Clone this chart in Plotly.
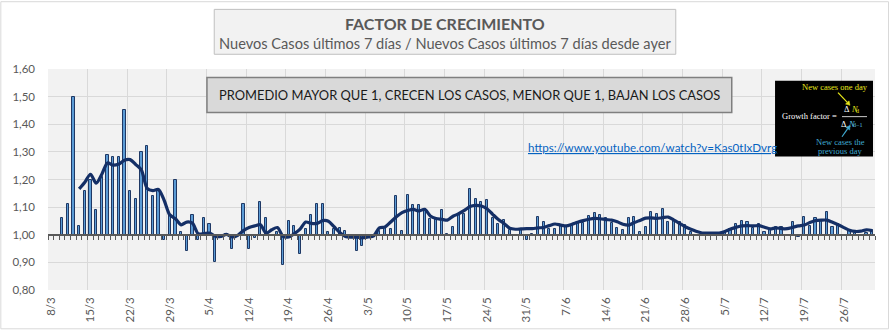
import datetime as dt
import math
import plotly.graph_objects as go

# ---------------- data ----------------
start = dt.date(2020, 3, 8)
n_days = 146
categories = [f"{(start + dt.timedelta(days=i)).day}/{(start + dt.timedelta(days=i)).month}" for i in range(n_days)]

growth_factor = [
    None, None, 1.06, 1.11, 1.50, 1.03, 1.16, 1.20, 1.09, 1.21,
    1.29, 1.28, 1.28, 1.45, 1.16, 1.13, 1.30, 1.32, 1.14, 1.16,
    0.98, 1.07, 1.20, 1.01, 0.94, 1.07, 0.98, 1.06, 1.04, 0.90,
    0.99, 1.003, 0.95, 0.995, 1.11, 0.95, 0.99, 1.12, 1.06, 1.00,
    1.01, 0.89, 1.05, 1.03, 0.93, 1.02, 1.07, 1.11, 1.11, 1.01,
    1.02, 1.025, 1.015, 0.99, 0.94, 0.96, 0.99, 0.995, 1.012, 1.026,
    1.021, 1.141, 1.015, 1.145, 1.109, 1.106, 1.092, 1.058, 1.06, 1.088,
    1.004, 1.028, 1.073, 1.074, 1.166, 1.131, 1.117, 1.127, 1.06, 1.04,
    1.052, 1.018, 0.997, 1.02, 0.982, 1.004, 1.064, 1.047, 1.02, 1.021,
    1.032, 1.029, 1.035, 1.041, 1.044, 1.067, 1.078, 1.071, 1.06, 1.042,
    1.025, 1.018, 1.06, 1.064, 1.011, 1.028, 1.082, 1.074, 1.095, 1.046,
    1.051, 1.047, 1.036, 1.011, 0.996, 1.00, 0.995, 0.994, 0.997, 1.01,
    1.021, 1.038, 1.05, 1.045, 1.026, 1.038, 1.011, 1.021, 1.027, 1.027,
    0.994, 1.045, 0.992, 1.064, 1.033, 1.06, 1.05, 1.082, 1.028, 1.04,
    1.00, 1.013, 1.007, 0.997, 1.007, 1.018,
]

weekly_average = [
    None, None, None, None, None, 1.166, 1.19, 1.219, 1.187, 1.219,
    1.26, 1.252, 1.256, 1.27, 1.272, 1.254, 1.234, 1.168, 1.16, 1.164,
    1.125, 1.072, 1.058, 1.036, 1.046, 1.042, 1.004, 1.004, 1.006, 0.995,
    0.994, 1.001, 0.992, 0.998, 1.015, 1.026, 1.032, 1.036, 1.006, 1.018,
    1.026, 0.994, 0.992, 1.004, 1.02, 1.046, 1.041, 1.041, 1.051, 1.049,
    1.029, 1.008, 0.994, 0.991, 0.991, 0.989, 0.992, 0.996, 1.025, 1.028,
    1.046, 1.065, 1.08, 1.088, 1.092, 1.086, 1.092, 1.068, 1.059, 1.056,
    1.053, 1.067, 1.076, 1.088, 1.102, 1.106, 1.104, 1.094, 1.074, 1.055,
    1.041, 1.024, 1.02, 1.021, 1.022, 1.022, 1.025, 1.026, 1.033, 1.039,
    1.035, 1.032, 1.038, 1.045, 1.051, 1.056, 1.059, 1.058, 1.055, 1.053,
    1.047, 1.038, 1.035, 1.044, 1.052, 1.06, 1.061, 1.059, 1.062, 1.064,
    1.053, 1.041, 1.029, 1.02, 1.012, 1.006, 1.006, 1.006, 1.006, 1.012,
    1.021, 1.027, 1.032, 1.033, 1.032, 1.033, 1.027, 1.021, 1.025, 1.022,
    1.022, 1.027, 1.032, 1.035, 1.044, 1.051, 1.053, 1.053, 1.045, 1.036,
    1.026, 1.016, 1.012, 1.013, 1.018, 1.015,
]

baseline = 1.0
title_text = "FACTOR DE CRECIMIENTO"
subtitle_text = "Nuevos Casos últimos 7 días / Nuevos Casos últimos 7 días desde ayer"
note_text = "PROMEDIO MAYOR QUE 1, CRECEN LOS CASOS, MENOR QUE 1, BAJAN LOS CASOS"
link_text = "https://www.youtube.com/watch?v=Kas0tIxDvrg"

# ---------------- layout helpers ----------------
FIG_W, FIG_H = 890, 335
L, R, T, B = 47.7, 875.0, 69.0, 294.0
W, H = R - L, B - T


def px(x):
    return (x - L) / W


def py(y):
    return (B - y) / H


def arrow(x_tail, y_tail, x_head, y_head, color):
    dx, dy = x_head - x_tail, y_head - y_tail
    d = math.hypot(dx, dy)
    ux, uy = dx / d, dy / d
    hl, hw = 4.0, 2.4
    bx, by = x_head - ux * hl, y_head - uy * hl
    p1 = (bx - uy * hw, by + ux * hw)
    p2 = (bx + uy * hw, by - ux * hw)
    line = dict(type="line", xref="paper", yref="paper",
                x0=px(x_tail), y0=py(y_tail), x1=px(bx), y1=py(by),
                line=dict(color=color, width=1.2))
    head = dict(type="path", xref="paper", yref="paper",
                path=f"M {px(x_head)} {py(y_head)} L {px(p1[0])} {py(p1[1])} L {px(p2[0])} {py(p2[1])} Z",
                fillcolor=color, line=dict(color=color, width=0.5))
    return [line, head]


def label(text, x, y, size, color, family, xanchor="center"):
    return dict(text=text, x=px(x), y=py(y), xref="paper", yref="paper", showarrow=False,
                borderpad=0, font=dict(family=family, size=size, color=color),
                xanchor=xanchor, yanchor="middle")


FONT = "Lato"
SERIF = "Liberation Serif"
GREY = "#595959"
YELLOW = "#E8E81A"
CYAN = "#3FA9D0"
CYAN2 = "#5BC0E0"

fig = go.Figure()

fig.add_trace(go.Bar(
    x=categories,
    y=[(v - baseline) if v is not None else None for v in growth_factor],
    base=baseline,
    width=0.38,
    marker=dict(color="#5B9BD5", line=dict(color="#1F3864", width=1.0)),
    xaxis="x", yaxis="y",
    showlegend=False,
))

fig.add_trace(go.Scatter(
    x=categories,
    y=weekly_average,
    mode="lines",
    line=dict(color="#142F66", width=3.2, shape="spline", smoothing=0.8),
    xaxis="x2", yaxis="y",
    showlegend=False,
))

shapes = [
    dict(type="rect", xref="paper", yref="paper", x0=px(0.5), x1=px(888.5), y0=py(333.5), y1=py(0.5),
         line=dict(color="#D9D9D9", width=1), layer="below"),
    dict(type="rect", xref="paper", yref="paper", x0=px(214), x1=px(675.7), y0=py(54), y1=py(8.3),
         fillcolor="#F2F2F2", line=dict(color="#BFBFBF", width=1)),
    dict(type="rect", xref="paper", yref="paper", x0=px(206.7), x1=px(731.7), y0=py(113.3), y1=py(77.7),
         fillcolor="#D9D9D9", line=dict(color="#7F7F7F", width=1.5)),
    dict(type="rect", xref="paper", yref="paper", x0=px(775), x1=px(873), y0=py(158), y1=py(81),
         fillcolor="#000000", line=dict(color="#000000", width=0)),
    dict(type="line", xref="paper", yref="paper", x0=px(842), x1=px(867), y0=py(117.5), y1=py(117.5),
         line=dict(color="#FFFFFF", width=0.8)),
]
shapes += arrow(838, 93, 850, 106, YELLOW)
shapes += arrow(842, 138, 850, 126.5, CYAN)

annotations = [
    label(f"<b>{title_text}</b>", 445, 22.5, 16, GREY, FONT),
    label(subtitle_text, 445, 43.5, 14.6, GREY, FONT),
    label(note_text, 469, 95.5, 12.9, "#1A1A1A", FONT),
    label(f"<u>{link_text}</u>", 652, 149, 11.6, "#0563C1", FONT),
    # growth factor inset
    label("New cases one day", 835, 87.5, 8.5, YELLOW, SERIF),
    label("Growth factor =", 809, 116.5, 8.5, "#FFFFFF", SERIF),
    label("Δ", 851, 110, 8.5, "#FFFFFF", SERIF, xanchor="right"),
    label("<i>N</i>", 849.5, 110, 8.5, YELLOW, SERIF, xanchor="left"),
    label("d", 854.5, 112, 6, YELLOW, SERIF, xanchor="left"),
    label("Δ", 848, 124.5, 8.5, "#FFFFFF", SERIF, xanchor="right"),
    label("<i>N</i>", 846.5, 124.5, 8.5, CYAN2, SERIF, xanchor="left"),
    label("d−1", 851.5, 126.5, 6, CYAN2, SERIF, xanchor="left"),
    label("New cases the", 840, 143.5, 8.5, CYAN, SERIF),
    label("previous day", 840, 152.5, 8.5, CYAN, SERIF),
]

fig.update_layout(
    width=FIG_W, height=FIG_H,
    margin=dict(l=L, r=FIG_W - R, t=T, b=FIG_H - B, pad=0),
    paper_bgcolor="#FFFFFF",
    plot_bgcolor="#F2F2F2",
    separators=",.",
    bargap=0,
    font=dict(family=FONT, color=GREY),
    xaxis=dict(
        type="category",
        range=[-0.5, n_days - 0.5],
        tickson="boundaries",
        tickmode="linear", tick0=0, dtick=7,
        tickangle=-90,
        ticks="",
        showgrid=True, gridcolor="#D9D9D9", gridwidth=1,
        showline=False, zeroline=False,
        tickfont=dict(family=FONT, size=11.5, color=GREY),
        ticklabelstandoff=4,
    ),
    xaxis2=dict(
        type="category",
        overlaying="x",
        anchor="free", position=0.25,
        side="bottom",
        range=[-0.5, n_days - 0.5],
        tickson="boundaries",
        tickmode="linear", tick0=0, dtick=1,
        ticks="outside", ticklen=4, tickwidth=1, tickcolor=GREY,
        showticklabels=False,
        showgrid=False, zeroline=False,
        showline=True, linecolor=GREY, linewidth=1.5,
    ),
    yaxis=dict(
        range=[0.8, 1.6],
        tickmode="linear", tick0=0.8, dtick=0.1,
        tickformat=".2f",
        showgrid=True, gridcolor="#D9D9D9", gridwidth=1,
        zeroline=False, showline=False, ticks="",
        tickfont=dict(family=FONT, size=11.5, color=GREY),
        ticklabelstandoff=12,
    ),
    shapes=shapes,
    annotations=annotations,
)

fig.write_html("out.html")
